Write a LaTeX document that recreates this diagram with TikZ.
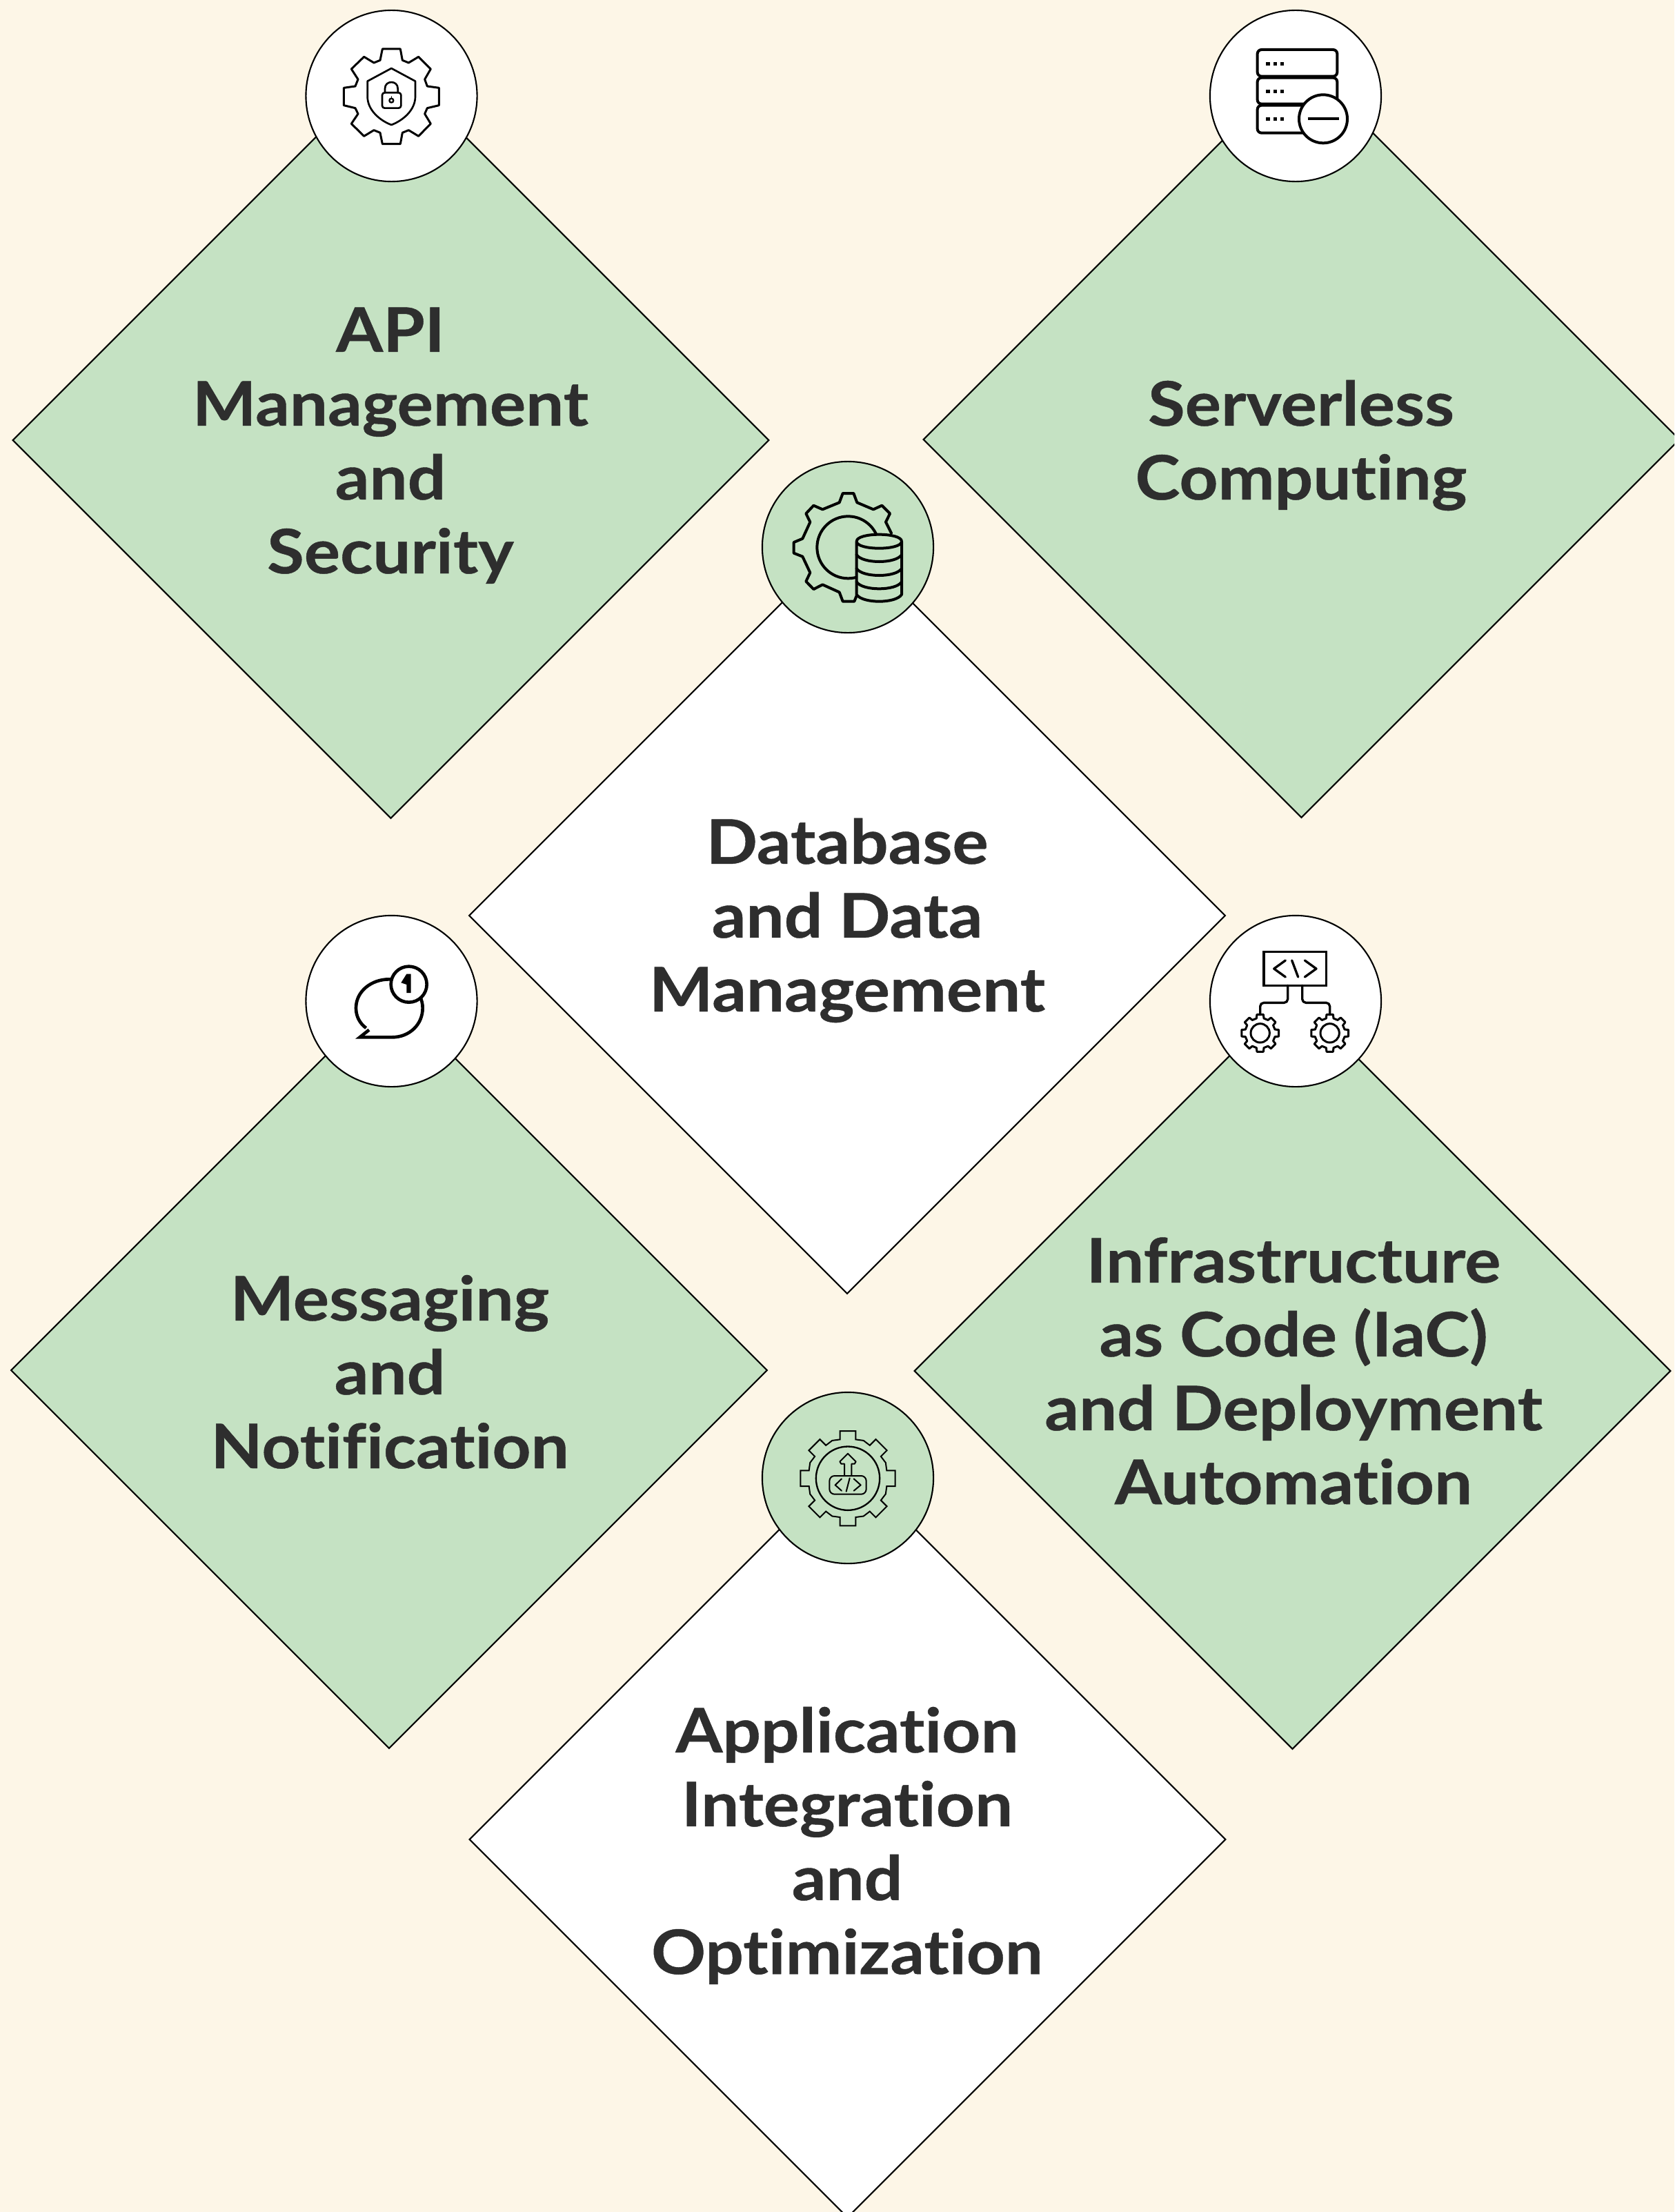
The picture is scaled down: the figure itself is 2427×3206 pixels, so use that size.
\documentclass[tikz,border=0pt]{standalone}
\usepackage{fontspec}
\setmainfont{Lato}[Ligatures=NoCommon,BoldFeatures={FakeStretch=1.10,FakeBold=0.5}]
\usetikzlibrary{shapes.geometric}
\definecolor{pagebg}{HTML}{FDF6E7}
\definecolor{leaf}{HTML}{C5E2C3}
\definecolor{ink}{HTML}{2E2E2E}
\tikzset{
  x=0.01cm,y=-0.01cm,
  dia/.style={diamond,aspect=1,draw=black,line width=0.6pt,inner sep=0pt,outer sep=0pt,minimum size=10.95cm},
  badge/.style={circle,draw=black,line width=0.6pt,inner sep=0pt,outer sep=0pt,minimum size=2.48cm},
  lbl/.style={text=ink,align=center,inner sep=0pt,anchor=base,font=\fontsize{25.3}{30.44}\selectfont\bfseries},
  icon/.style={draw=black,line width=#1*0.0948pt,line join=round,line cap=round},
  zoomed/.style={scale=1/3},
}
\begin{document}
\begin{tikzpicture}
\useasboundingbox (0,0) rectangle (2427,3206);
\clip (0,0) rectangle (2427,3206);
\fill[pagebg] (0,0) rectangle (2427,3206);

% diamonds
\node[dia,fill=leaf] (d1) at (566.5,638) {};
\node[dia,fill=leaf] (d2) at (1886.5,637) {};
\node[dia,fill=white] (d3) at (1228,1327) {};
\node[dia,fill=leaf] (d4) at (564,1986) {};
\node[dia,fill=leaf] (d5) at (1873.5,1987) {};
\node[dia,fill=white] (d6) at (1228.5,2666) {};

% badges
\node[badge,fill=white] (c1) at (567.5,139) {};
\node[badge,fill=white] (c2) at (1878,139) {};
\node[badge,fill=leaf] (c3) at (1229,793) {};
\node[badge,fill=white] (c4) at (567.5,1451) {};
\node[badge,fill=white] (c5) at (1878,1451) {};
\node[badge,fill=leaf] (c6) at (1229,2142) {};

% labels (anchored on the last baseline)
\node[lbl] (t1) at (566,831) {API\\Management\\and\\Security};
\node[lbl] (t2) at (1886,724) {Serverless\\Computing};
\node[lbl] (t3) at (1228,1466) {Database\\and Data\\Management};
\node[lbl] (t4) at (565,2128) {Messaging\\and\\Notification};
\node[lbl] (t5) at (1875,2180) {Infrastructure\\as Code (IaC)\\and Deployment\\Automation};
\node[lbl] (t6) at (1228,2861) {Application\\Integration\\and\\Optimization};

% icon 1: gear with shield
\begin{scope}[shift={(420,0)},zoomed]
\draw[icon=9] (403,213)--(481,213)--(490,262)--(517,273)--(560,247)--(613,300)--(587,345)--(598,375)--(649,382)--(649,458)--(598,470)--(587,495)--(613,538)--(560,592)--(517,566)--(490,577)--(481,626)--(403,626)--(393,577)--(366,566)--(323,592)--(268,538)--(297,495)--(285,470)--(235,458)--(235,382)--(285,375)--(297,345)--(268,300)--(323,247)--(366,273)--(393,262)--cycle;
\draw[icon=8] (442,297)--(546,353)--(546,420) .. controls (546,480) and (490,525) .. (442,543) .. controls (394,525) and (338,480) .. (338,420)--(338,353)--cycle;
\draw[icon=8,rounded corners=1pt] (402,403) rectangle (484,470);
\draw[icon=8] (414,403)--(414,385) .. controls (414,348) and (470,348) .. (470,385)--(470,403);
\draw[icon=7] (442,437) circle (9);
\draw[icon=5] (442,428)--(442,420);
\end{scope}

% icon 2: server stack with minus
\begin{scope}[shift={(1730,0)},zoomed]
\draw[icon=12,rounded corners=1.7pt] (278,216) rectangle (625,332);
\draw[icon=12,rounded corners=1.7pt] (278,338) rectangle (625,452);
\draw[icon=12,rounded corners=1.7pt] (278,458) rectangle (625,578);
\foreach \yy in {270,390,510}{
  \foreach \xx in {316,347,378}{
    \fill[black] (\xx,\yy) rectangle (\xx+16,\yy+15);
  }
}
\draw[icon=12,fill=white] (564,517) circle (105);
\draw[icon=12,line cap=butt] (497,517)--(632,517);
\end{scope}

% icon 3: gear with database
\begin{scope}[shift={(1080,650)},zoomed]
\draw[icon=12] (636,368)--(612,320)--(630,283)--(595,248)--(558,265)--(487,235)--(472,195)--(425,195)--(410,235)--(337,265)--(298,248)--(265,283)--(283,320)--(250,392)--(212,408)--(212,455)--(250,470)--(283,540)--(265,578)--(298,612)--(337,592)--(410,625)--(425,665)--(475,665)--(487,635);
\draw[icon=12] (448,430) circle (135);
\fill[leaf] (485,404) .. controls (485,364) and (681,364) .. (681,404) -- (681,635) .. controls (681,675) and (485,675) .. (485,635) -- cycle;
\draw[icon=12] (485,404) .. controls (485,364) and (681,364) .. (681,404) .. controls (681,444) and (485,444) .. (485,404) -- (485,635) .. controls (510,675) and (656,675) .. (681,635) -- (681,404);
\draw[icon=12] (485,462) .. controls (510,502) and (656,502) .. (681,462);
\draw[icon=12] (485,522) .. controls (510,562) and (656,562) .. (681,522);
\draw[icon=12] (485,580) .. controls (510,620) and (656,620) .. (681,580);
\end{scope}

% icon 4: speech bubble with badge
\begin{scope}[shift={(420,1310)},zoomed]
\draw[icon=14,line cap=butt,miter limit=10,line join=miter] (345,548) -- (305,580) -- (445,580) .. controls (520,580) and (578,525) .. (578,453) .. controls (578,380) and (510,328) .. (432,328) .. controls (355,328) and (288,380) .. (288,453) .. controls (288,490) and (305,520) .. (332,540);
\draw[icon=14,fill=white] (518,350) circle (78);
\fill[black] (508,305) -- (527,305) -- (527,387) -- (508,387) -- (508,351) -- (484,343) -- cycle;
\end{scope}

% icon 5: code box with two gears
\begin{scope}[shift={(1730,1310)},zoomed]
\draw[icon=10,line join=miter] (306,208) rectangle (578,355);
\draw[icon=10] (400,246)--(350,282)--(400,318);
\draw[icon=10] (428,246)--(455,318);
\draw[icon=10] (484,246)--(534,282)--(484,318);
\draw[icon=10,rounded corners=1.5pt] (410,355)--(410,430)--(290,430)--(290,482);
\draw[icon=10,rounded corners=1.5pt] (473,355)--(473,430)--(593,430)--(593,482);
\foreach \gx in {290,593}{
  \begin{scope}[shift={(\gx,562)}]
    \draw[icon=9] (-14:66) \foreach \a in {0,45,...,315}{ -- (\a-14:66) -- (\a-10:82) -- (\a+10:82) -- (\a+14:66) } -- cycle;
    \draw[icon=9] (0,0) circle (41);
  \end{scope}
}
\end{scope}

% icon 6: gear with code and arrow
\begin{scope}[shift={(1080,2010)},zoomed]
\begin{scope}[shift={(447,398)}]
\draw[icon=6,line join=miter] (-11.4:172.4) \foreach \a in {0,45,...,315}{ -- (\a-11.4:172.4) -- (\a-9.4:208.8) -- (\a+9.4:208.8) -- (\a+11.4:172.4) -- (\a+22.5:178) } -- cycle;
\draw[icon=7] (0,0) circle (138.5);
\end{scope}
\draw[icon=6] (432,385)--(432,335)--(418,335)--(412,325)--(447,290)--(482,325)--(476,335)--(463,335)--(463,385);
\draw[icon=6,rounded corners=2.1pt] (367,387) rectangle (527,467);
\draw[icon=6] (420,400)--(392,427)--(420,452);
\draw[icon=6] (455,397)--(440,455);
\draw[icon=6] (473,400)--(503,427)--(473,452);
\end{scope}
\end{tikzpicture}
\end{document}
